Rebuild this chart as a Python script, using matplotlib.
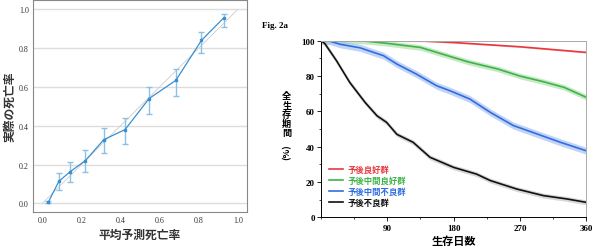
import numpy as np
import matplotlib
matplotlib.use('Agg')
import matplotlib.pyplot as plt
from matplotlib.ticker import MultipleLocator

plt.rcParams['font.family'] = ['Noto Sans CJK JP', 'DejaVu Sans']

# calibration data (left panel)
pred = [0.03, 0.084, 0.142, 0.22, 0.314, 0.423, 0.546, 0.683, 0.814, 0.927]
actual = [0.005, 0.113, 0.163, 0.22, 0.328, 0.38, 0.54, 0.634, 0.84, 0.955]
err_low = [0.0, 0.07, 0.112, 0.16, 0.261, 0.308, 0.462, 0.555, 0.775, 0.909]
err_high = [0.01, 0.156, 0.215, 0.277, 0.39, 0.442, 0.6, 0.694, 0.885, 0.976]

# survival curves (right panel)
grp_names = ['予後良好群', '予後中間良好群', '予後中間不良群', '予後不良群']
grp_colors = ['#e8383d', '#3fb34a', '#2f6ee0', '#111111']
band_colors = ['#f2a0a3', '#9fdc9f', '#9ab7f0', '#bdbdbd']
band_half = [0.4, 1.6, 2.0, 1.4]

red_days = [0, 60, 140, 180, 270, 360]
red_surv = [100, 100, 99.8, 99, 96.6, 93.4]
green_days = [0, 30, 60, 90, 135, 180, 200, 240, 270, 300, 330, 360]
green_surv = [100, 100, 99.8, 98.5, 96.2, 90.5, 88, 84, 80, 77, 73.6, 68]
blue_days = [0, 12, 26, 53, 85, 103, 130, 157, 175, 202, 230, 261, 288, 325, 360]
blue_surv = [100, 99.8, 98, 96, 91.5, 86.8, 81, 74.5, 71.7, 67, 59.4, 52, 48, 42.5, 37.7]
black_days = [0, 5, 21, 39, 60, 76, 89, 103, 125, 148, 180, 211, 230, 266, 302, 334, 360]
black_surv = [100, 98.5, 88.7, 76.4, 65, 57.5, 53.8, 47, 42.5, 34, 28.3, 24.5, 20.8, 16, 12.3, 10.4, 8.5]

fig = plt.figure(figsize=(6, 2.53), dpi=100)

# ---- left: calibration plot
ax1 = fig.add_axes([0.055, 0.158, 0.357, 0.838])
ax1.set_xlim(-0.048, 1.048)
ax1.set_ylim(-0.045, 1.048)
for v in [0, 0.2, 0.4, 0.6, 0.8, 1.0]:
    ax1.axhline(v, color='#dddddd', lw=1.0, zorder=0)
ax1.plot([0, 1], [0, 1], color='#cccccc', lw=0.6, zorder=1)
pred_a = np.array(pred)
act_a = np.array(actual)
yerr = [act_a - np.array(err_low), np.array(err_high) - act_a]
ax1.errorbar(pred_a, act_a, yerr=yerr, fmt='none', ecolor='#8cc0e6', elinewidth=1.0,
             capsize=2, capthick=1.0, zorder=2)
ax1.plot(pred_a, act_a, color='#3a8fd0', lw=0.9, marker='s', ms=1.6, zorder=3)
ticks = [0, 0.2, 0.4, 0.6, 0.8, 1.0]
tick_labels = ['0.0', '0.2', '0.4', '0.6', '0.8', '1.0']
ax1.set_xticks(ticks)
ax1.set_yticks(ticks)
ax1.set_xticklabels(tick_labels, family='Liberation Serif', fontsize=5.8, color='#333333')
ax1.set_yticklabels(tick_labels, family='Liberation Serif', fontsize=5.8, color='#333333')
ax1.tick_params(length=0, pad=3)
for s in ax1.spines.values():
    s.set_color('#888888')
    s.set_linewidth(0.8)
ax1.set_xlabel('平均予測死亡率', fontsize=8.5, fontweight='bold', color='#333333', labelpad=3)
ax1.set_ylabel('実際の死亡率', fontsize=8.5, fontweight='bold', color='#333333', labelpad=2)

# ---- right: survival curves
ax2 = fig.add_axes([0.535, 0.137, 0.442, 0.698])
series = [(red_days, red_surv), (green_days, green_surv), (blue_days, blue_surv), (black_days, black_surv)]
for (d, s), name, c, bc, h in zip(series, grp_names, grp_colors, band_colors, band_half):
    d = np.array(d)
    s = np.array(s)
    ax2.fill_between(d, np.minimum(s + h, 100), s - h, color=bc, alpha=0.6, lw=0)
    ax2.plot(d, s, color=c, lw=1.2, label=name)
ax2.set_xlim(0, 360)
ax2.set_ylim(0, 100)
ax2.set_xticks([90, 180, 270, 360])
ax2.set_yticks([0, 20, 40, 60, 80, 100])
ax2.yaxis.set_minor_locator(MultipleLocator(10))
ax2.xaxis.set_minor_locator(MultipleLocator(45))
for lab in ax2.get_xticklabels() + ax2.get_yticklabels():
    lab.set_family('Liberation Serif')
    lab.set_fontweight('bold')
    lab.set_fontsize(6.5)
ax2.tick_params(which='major', length=3, width=0.6, pad=1.5)
ax2.tick_params(which='minor', length=1.5, width=0.5)
ax2.spines['top'].set_color('#aaaaaa')
ax2.spines['right'].set_color('#aaaaaa')
for s in ax2.spines.values():
    s.set_linewidth(0.7)
ax2.set_xlabel('生存日数', fontsize=8, fontweight='bold', labelpad=2)
leg = ax2.legend(loc='lower left', bbox_to_anchor=(0.0, 0.015), frameon=False,
                 handlelength=1.7, handletextpad=0.6, labelspacing=0.25,
                 prop={'weight': 'bold', 'size': 6})
for t, c in zip(leg.get_texts(), grp_colors):
    t.set_color(c)

# stacked vertical y label
for i, ch in enumerate('全生存期間'):
    fig.text(0.478, 1 - (96 + 9.2 * i) / 253, ch, fontsize=6.6, fontweight='bold',
             ha='center', va='center_baseline')
fig.text(0.478, 1 - 152 / 253, '(%)', fontsize=6.6, fontweight='bold', ha='center', va='center',
         rotation=90)
fig.text(0.437, 0.89, 'Fig. 2a', family='Liberation Serif', fontweight='bold', fontsize=6.5)

fig.savefig('out.png', dpi=100)
